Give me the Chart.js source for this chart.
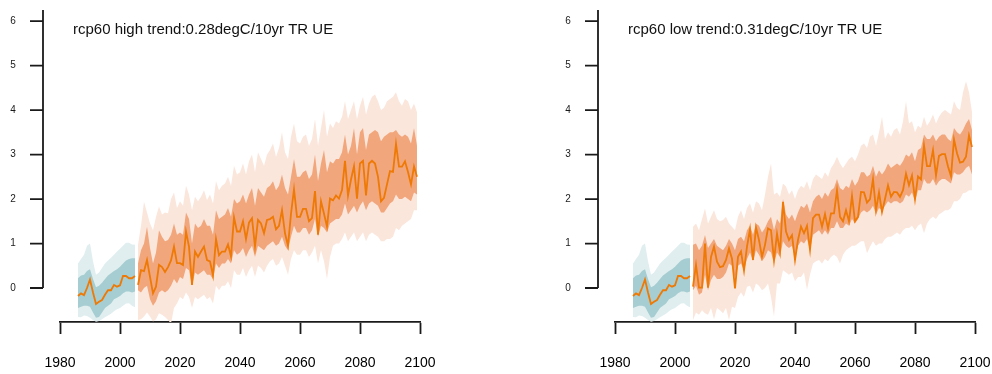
<!DOCTYPE html>
<html>
<head>
<meta charset="utf-8">
<script src="https://cdn.jsdelivr.net/npm/chart.js@4/dist/chart.umd.min.js"></script>
<style>
  html, body { margin: 0; padding: 0; background: #fff; }
  #wrap { position: relative; width: 992px; height: 374px; }
  #wrap canvas { position: absolute; top: 0; }
</style>
</head>
<body>
<div id="wrap">
  <canvas id="left" width="496" height="374" style="left:0"></canvas>
  <canvas id="right" width="496" height="374" style="left:496px"></canvas>
</div>
<script>
const xTickYears = [1980, 2000, 2020, 2040, 2060, 2080, 2100];
const yTickValues = [0, 1, 2, 3, 4, 5, 6];

const histYears = Array.from({ length: 20 }, (_, i) => 1986 + i);
const futureYears = Array.from({ length: 94 }, (_, i) => 2006 + i);

// historical period (same in both panels)
const histLine = [-0.18, -0.12, -0.16, 0.0, 0.19, -0.1, -0.36, -0.31, -0.27, -0.15, -0.05, -0.05, 0.07, 0.03, 0.06, 0.27, 0.27, 0.22, 0.22, 0.27];
const histInnerHi = [0.22, 0.28, 0.3, 0.38, 0.42, 0.2, 0.02, 0.05, 0.12, 0.2, 0.28, 0.33, 0.38, 0.42, 0.48, 0.55, 0.62, 0.65, 0.67, 0.67];
const histInnerLo = [-0.45, -0.42, -0.4, -0.4, -0.42, -0.55, -0.67, -0.65, -0.55, -0.45, -0.4, -0.35, -0.25, -0.22, -0.18, -0.12, -0.08, -0.08, -0.1, -0.08];
const histOuterHi = [0.55, 0.65, 0.75, 0.95, 1.0, 0.6, 0.3, 0.35, 0.45, 0.55, 0.62, 0.68, 0.75, 0.82, 0.88, 0.95, 1.02, 1.02, 0.98, 0.97];
const histOuterLo = [-0.65, -0.66, -0.62, -0.63, -0.67, -0.72, -0.76, -0.74, -0.7, -0.66, -0.62, -0.58, -0.52, -0.48, -0.45, -0.4, -0.35, -0.34, -0.4, -0.43];

// rcp60 high, 2006-2099
const highLine = [
  0.07, 0.40, 0.38, 0.63, 0.25, -0.12, 0.03, 0.52, 0.47, 0.36,
  0.47, 0.62, 0.93, 0.56, 0.56, 0.52, 1.27, 0.93, 0.07, 0.82,
  0.70, 0.82, 0.93, 0.63, 0.60, 0.28, 1.10, 0.74, 0.82, 0.82,
  0.98, 0.71, 1.59, 1.27, 1.27, 1.50, 1.10, 1.47, 1.57, 0.93,
  1.53, 1.45, 1.23, 1.53, 1.55, 1.60, 1.32, 1.40, 1.75, 1.23,
  0.95, 1.67, 2.22, 1.60, 1.60, 1.78, 1.78, 1.50, 1.57, 2.18,
  1.20, 1.95, 1.67, 1.38, 2.01, 1.97, 2.08, 2.01, 2.20, 2.86,
  2.08, 2.44, 2.74, 2.01, 2.80, 2.86, 2.08, 2.80, 2.86, 2.80,
  2.50, 1.95, 2.03, 2.33, 2.63, 2.61, 3.24, 2.73, 2.73, 2.85,
  2.61, 2.33, 2.73, 2.50
];
const highInnerHi = [
  0.55, 0.85, 1.00, 1.38, 0.90, 0.55, 0.80, 1.30, 1.15, 1.05,
  1.08, 1.20, 1.45, 1.20, 1.25, 1.20, 1.70, 1.55, 1.00, 1.45,
  1.35, 1.40, 1.55, 1.40, 1.40, 1.20, 1.75, 1.55, 1.60, 1.65,
  1.80, 1.60, 2.00, 1.90, 1.95, 2.10, 1.90, 2.10, 2.25, 1.85,
  2.25, 2.15, 2.05, 2.25, 2.30, 2.40, 2.20, 2.30, 2.55, 2.25,
  2.10, 2.50, 2.90, 2.50, 2.50, 2.60, 2.65, 2.45, 2.55, 3.00,
  2.40, 2.80, 3.10, 2.60, 2.85, 2.80, 2.90, 2.90, 3.05, 3.45,
  3.00, 3.20, 3.60, 3.00, 3.50, 3.60, 3.10, 3.45, 3.50, 3.55,
  3.50, 3.30, 3.40, 3.45, 3.50, 3.50, 3.55, 3.45, 3.40, 3.45,
  3.40, 3.25, 3.60, 3.20
];
const highInnerLo = [
  -0.05, -0.10, 0.00, 0.05, -0.25, -0.40, -0.30, -0.10, -0.05, -0.10,
  -0.05, 0.05, 0.20, 0.10, 0.25, 0.20, 0.45, 0.40, 0.05, 0.35,
  0.30, 0.35, 0.40, 0.30, 0.30, 0.20, 0.55, 0.45, 0.55, 0.55,
  0.65, 0.55, 0.85, 0.75, 0.80, 0.90, 0.70, 0.85, 0.95, 0.70,
  0.95, 0.90, 0.85, 0.95, 1.00, 1.05, 0.95, 1.00, 1.15, 0.95,
  0.85, 1.15, 1.40, 1.25, 1.25, 1.35, 1.35, 1.20, 1.30, 1.55,
  1.15, 1.40, 1.35, 1.25, 1.45, 1.50, 1.55, 1.55, 1.65, 1.90,
  1.65, 1.75, 1.85, 1.70, 1.85, 1.95, 1.75, 1.90, 1.95, 1.90,
  1.85, 1.70, 1.70, 1.80, 1.90, 1.95, 2.10, 2.00, 2.00, 2.05,
  2.00, 1.95, 2.15, 2.10
];
const highOuterHi = [
  0.97, 1.40, 1.94, 1.70, 1.45, 1.30, 1.60, 1.83, 1.65, 1.70,
  1.68, 2.00, 2.15, 1.80, 1.95, 1.85, 2.30, 2.10, 1.75, 2.05,
  1.95, 2.05, 2.20, 1.98, 2.10, 1.90, 2.40, 2.20, 2.30, 2.35,
  2.50, 2.30, 2.75, 2.55, 2.60, 2.80, 2.55, 2.85, 3.00, 2.60,
  3.05, 2.90, 2.75, 3.00, 3.10, 3.25, 2.95, 3.15, 3.50, 3.05,
  2.90, 3.40, 3.70, 3.30, 3.25, 3.40, 3.45, 3.20, 3.35, 3.80,
  3.20, 3.60, 4.00, 3.40, 3.70, 3.60, 3.75, 3.70, 3.85, 4.20,
  3.80, 4.00, 4.20, 3.80, 4.10, 4.30, 3.90, 4.15, 4.30, 4.35,
  4.20, 4.00, 4.05, 4.20, 4.25, 4.30, 4.40, 4.20, 4.10, 4.25,
  4.20, 4.00, 4.15, 3.95
];
const highOuterLo = [
  -0.72, -0.70, -0.64, -0.55, -0.64, -0.75, -0.70, -0.57, -0.60, -0.65,
  -0.72, -0.80, -0.45, -0.35, -0.20, -0.25, -0.10, -0.20, -0.45, -0.20,
  -0.25, -0.20, -0.15, -0.25, -0.20, -0.35, 0.05, -0.05, 0.05, 0.05,
  0.15, 0.00, 0.40, 0.30, 0.30, 0.45, 0.25, 0.40, 0.50, 0.25,
  0.50, 0.45, 0.35, 0.50, 0.60, 0.65, 0.50, 0.55, 0.70, 0.50,
  0.30, 0.65, 0.85, 0.75, 0.75, 0.85, 0.85, 0.70, 0.80, 0.95,
  0.55, 0.85, 0.60, 0.20, 0.70, 0.95, 1.00, 1.00, 1.10, 1.25,
  1.05, 1.15, 1.25, 1.05, 1.15, 1.25, 1.05, 1.20, 1.25, 1.20,
  1.15, 1.05, 1.05, 1.10, 1.10, 1.15, 1.35, 1.30, 1.40, 1.45,
  1.50, 1.55, 1.75, 1.75
];

// rcp60 low, 2006-2099
const lowLine = [
  0.03, 0.52, 0.01, 0.01, 1.00, 0.01, 0.70, 0.93, 0.59, 0.47,
  0.49, 0.63, 0.89, 0.66, -0.01, 0.70, 0.82, 0.39, 0.93, 1.32,
  0.63, 1.36, 1.08, 0.70, 0.97, 1.34, 1.30, 0.63, 1.22, 0.82,
  1.94, 1.27, 1.08, 1.19, 0.63, 1.08, 1.38, 1.23, 1.40, 0.86,
  1.57, 1.65, 1.65, 1.38, 1.66, 1.34, 1.68, 1.68, 2.20, 1.60,
  1.50, 1.75, 1.50, 2.07, 1.50, 1.60, 2.16, 2.15, 1.92, 2.00,
  2.45, 1.75, 2.15, 1.71, 2.00, 2.31, 2.05, 2.16, 2.15, 2.05,
  2.20, 2.57, 2.31, 2.53, 2.00, 2.51, 2.44, 3.21, 2.74, 2.74,
  3.10, 2.53, 2.97, 3.01, 3.01, 2.73, 2.51, 3.34, 3.03, 2.82,
  2.84, 2.95, 3.43, 3.17
];
const lowInnerHi = [
  0.97, 1.00, 0.85, 0.95, 1.19, 0.90, 1.00, 1.10, 0.95, 0.90,
  0.85, 0.95, 1.10, 1.00, 0.85, 1.10, 1.15, 1.05, 1.30, 1.40,
  1.20, 1.45, 1.40, 1.25, 1.35, 1.50, 1.60, 1.30, 1.55, 1.45,
  2.00, 1.65, 1.55, 1.65, 1.50, 1.70, 1.85, 1.80, 1.90, 1.70,
  1.95, 2.05, 2.10, 2.00, 2.15, 2.05, 2.20, 2.25, 2.45, 2.25,
  2.20, 2.30, 2.25, 2.45, 2.30, 2.40, 2.60, 2.60, 2.50, 2.55,
  2.75, 2.50, 2.65, 2.55, 2.65, 2.80, 2.70, 2.75, 2.80, 2.75,
  2.85, 3.00, 2.95, 3.05, 2.85, 3.10, 3.15, 3.45, 3.35, 3.35,
  3.45, 3.30, 3.40, 3.45, 3.45, 3.35, 3.30, 3.60, 3.50, 3.45,
  3.55, 3.70, 3.80, 3.55
];
const lowInnerLo = [
  -0.05, 0.05, -0.15, -0.10, 0.30, -0.05, 0.18, 0.30, 0.20, 0.20,
  0.25, 0.35, 0.55, 0.50, 0.20, 0.50, 0.55, 0.40, 0.65, 0.80,
  0.60, 0.85, 0.75, 0.60, 0.70, 0.85, 0.80, 0.55, 0.80, 0.70,
  1.05, 0.95, 0.90, 0.95, 0.70, 0.95, 1.05, 1.00, 1.10, 0.85,
  1.20, 1.25, 1.30, 1.20, 1.30, 1.20, 1.35, 1.35, 1.50, 1.35,
  1.35, 1.45, 1.40, 1.55, 1.45, 1.55, 1.70, 1.75, 1.70, 1.75,
  1.85, 1.65, 1.80, 1.75, 1.85, 1.95, 1.90, 1.95, 1.95, 1.90,
  1.95, 2.10, 2.05, 2.15, 1.95, 2.20, 2.20, 2.45, 2.35, 2.35,
  2.45, 2.30, 2.40, 2.45, 2.45, 2.40, 2.35, 2.60, 2.55, 2.55,
  2.60, 2.70, 2.75, 2.55
];
const lowOuterHi = [
  1.38, 1.45, 1.30, 1.55, 1.79, 1.45, 1.60, 1.75, 1.55, 1.50,
  1.53, 1.60, 1.45, 1.38, 1.30, 1.60, 1.75, 1.55, 1.80, 1.90,
  1.70, 1.95, 1.90, 1.75, 2.10, 2.50, 2.80, 2.10, 2.15, 2.05,
  2.35, 2.28, 2.10, 2.20, 2.00, 2.20, 2.30, 2.25, 2.40, 2.20,
  2.45, 2.55, 2.50, 2.45, 2.60, 2.50, 2.70, 2.80, 2.95, 2.80,
  2.70, 2.80, 2.90, 2.95, 2.85, 3.00, 3.20, 3.25, 3.15, 3.40,
  3.45, 3.20, 3.50, 3.85, 3.35, 3.50, 3.40, 3.55, 3.60, 3.45,
  3.75, 4.20, 3.70, 3.75, 3.50, 3.65, 3.60, 3.85, 3.65, 3.75,
  3.90, 3.70, 3.85, 3.95, 4.00, 3.95, 3.90, 4.20, 4.05, 4.00,
  4.40, 4.65, 4.40, 3.95
];
const lowOuterLo = [
  -0.72, -0.55, -0.60, -0.50, -0.57, -0.60, -0.45, -0.70, -0.45, -0.50,
  -0.57, -0.45, -0.72, -0.42, -0.45, -0.20, -0.10, -0.20, 0.03, 0.05,
  -0.10, 0.10, 0.05, -0.05, 0.00, 0.10, -0.20, -0.64, 0.10, 0.10,
  0.40, 0.35, 0.30, 0.35, 0.15, 0.25, 0.25, 0.35, -0.04, 0.30,
  0.55, 0.60, 0.63, 0.55, 0.65, 0.60, 0.70, 0.75, 0.70, 0.55,
  0.75, 0.85, 0.90, 0.95, 0.95, 1.00, 1.05, 1.05, 0.78, 0.93,
  1.05, 0.95, 1.00, 1.00, 1.10, 1.15, 1.15, 1.20, 1.25, 1.20,
  1.30, 1.35, 1.35, 1.40, 1.30, 1.40, 1.45, 1.23, 1.45, 1.55,
  1.60, 1.55, 1.65, 1.70, 1.75, 1.75, 1.80, 1.95, 1.95, 2.00,
  2.13, 2.15, 2.20, 2.20
];

const TEAL_OUTER = "rgb(224, 238, 239)";
const TEAL_INNER = "rgb(166, 205, 209)";
const ORANGE_OUTER = "rgb(251, 230, 220)";
const ORANGE_INNER = "rgb(241, 166, 124)";
const LINE_COLOR = "rgb(238, 121, 5)";
const INK = "#1a1a1a";
const FONT = "'Liberation Sans', Arial, Helvetica, sans-serif";

function pts(years, values) {
  return values.map((v, i) => ({ x: years[i], y: v }));
}

function bandSets(years, lo, hi, color, order) {
  return [
    { data: pts(years, lo), borderWidth: 0, borderColor: "transparent", pointRadius: 0, fill: false, order },
    { data: pts(years, hi), borderWidth: 0, borderColor: "transparent", pointRadius: 0, fill: "-1", backgroundColor: color, order },
  ];
}

function lineSet(years, values) {
  return { data: pts(years, values), borderColor: LINE_COLOR, borderWidth: 1.8, pointRadius: 0, fill: false, tension: 0, order: 0 };
}

// R-style detached y axis plus panel caption
const rAxisPlugin = {
  id: "rAxis",
  afterDraw(chart) {
    const { ctx, chartArea } = chart;
    const y = chart.scales.y;
    const axisX = chartArea.left - 17;
    ctx.save();
    ctx.strokeStyle = INK;
    ctx.lineWidth = 1.8;
    ctx.beginPath();
    ctx.moveTo(axisX, chartArea.top);
    ctx.lineTo(axisX, y.getPixelForValue(0));
    yTickValues.forEach((v) => {
      const py = y.getPixelForValue(v);
      ctx.moveTo(axisX, py);
      ctx.lineTo(axisX - 13, py);
    });
    ctx.stroke();
    ctx.fillStyle = INK;
    ctx.font = `10px ${FONT}`;
    ctx.textAlign = "center";
    ctx.textBaseline = "middle";
    yTickValues.forEach((v) => {
      ctx.fillText(String(v), axisX - 30, y.getPixelForValue(v));
    });
    const caption = chart.options.plugins.rAxis.caption;
    ctx.font = `15px ${FONT}`;
    ctx.textAlign = "left";
    ctx.fillStyle = "#111";
    ctx.fillText(caption, chartArea.left + 13, 30);
    ctx.restore();
  },
};

function makePanel(canvasId, caption, padLeft, padRight, fut) {
  return new Chart(document.getElementById(canvasId), {
    type: "line",
    data: {
      datasets: [
        ...bandSets(histYears, histOuterLo, histOuterHi, TEAL_OUTER, 3),
        ...bandSets(histYears, histInnerLo, histInnerHi, TEAL_INNER, 2),
        lineSet(histYears, histLine),
        ...bandSets(futureYears, fut.outerLo, fut.outerHi, ORANGE_OUTER, 3),
        ...bandSets(futureYears, fut.innerLo, fut.innerHi, ORANGE_INNER, 2),
        lineSet(futureYears, fut.line),
      ],
    },
    options: {
      responsive: false,
      animation: false,
      devicePixelRatio: 1,
      layout: { padding: { left: padLeft, right: padRight, top: 10, bottom: 0 } },
      plugins: {
        legend: { display: false },
        tooltip: { enabled: false },
        rAxis: { caption },
      },
      scales: {
        x: {
          type: "linear",
          min: 1980,
          max: 2100,
          afterBuildTicks: (scale) => {
            scale.ticks = xTickYears.map((v) => ({ value: v }));
          },
          afterFit: (scale) => {
            scale.height = 52;
            scale.paddingLeft = 0;
            scale.paddingRight = 0;
          },
          border: { display: true, color: INK, width: 1.8 },
          grid: { drawOnChartArea: false, drawTicks: true, tickLength: 12, tickColor: INK, tickWidth: 1.8 },
          ticks: {
            color: "#000",
            padding: 21,
            maxRotation: 0,
            font: { family: FONT, size: 14 },
            callback: (v) => String(v),
          },
        },
        y: {
          display: false,
          min: -0.764,
          max: 6.25,
        },
      },
    },
    plugins: [rAxisPlugin],
  });
}

makePanel("left", "rcp60 high trend:0.28degC/10yr TR UE", 60, 76, {
  line: highLine, innerHi: highInnerHi, innerLo: highInnerLo, outerHi: highOuterHi, outerLo: highOuterLo,
});
makePanel("right", "rcp60 low trend:0.31degC/10yr TR UE", 119, 17, {
  line: lowLine, innerHi: lowInnerHi, innerLo: lowInnerLo, outerHi: lowOuterHi, outerLo: lowOuterLo,
});
</script>
</body>
</html>
